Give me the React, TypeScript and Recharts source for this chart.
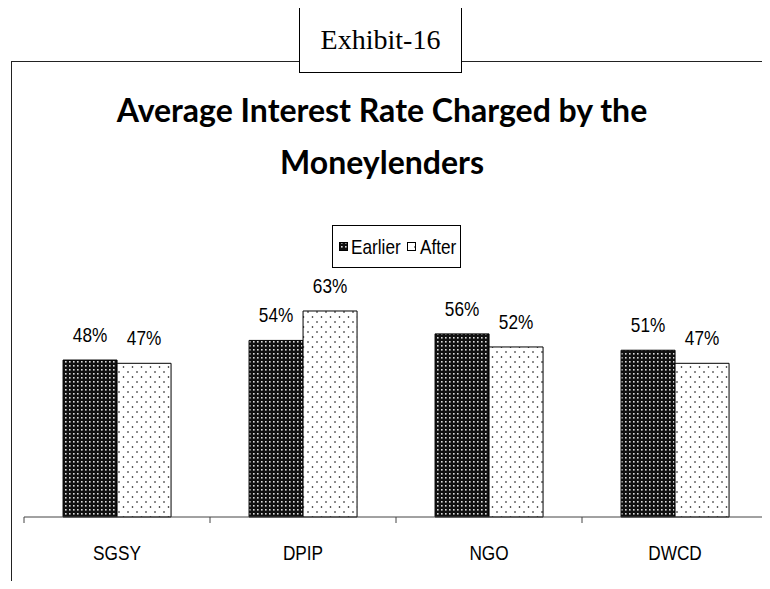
import { BarChart, Bar, XAxis, YAxis, LabelList } from "recharts";

const categories = ["SGSY", "DPIP", "NGO", "DWCD"];
const earlier = [48, 54, 56, 51];
const after = [47, 63, 52, 47];

const data = categories.map((name, i) => ({
  name,
  earlier: earlier[i],
  after: after[i],
}));

const sans = "'Liberation Sans', Arial, sans-serif";
const NARROW = 0.82;

// Arial Narrow isn't installed, so squeeze Liberation Sans instead
function NarrowText({ x, y, anchor = "middle", size = 21, children }: any) {
  return (
    <text
      transform={`translate(${x},${y}) scale(${NARROW},1)`}
      textAnchor={anchor}
      fontFamily={sans}
      fontSize={size}
      fill="#000"
    >
      {children}
    </text>
  );
}

function CategoryTick(props: any) {
  const { x, y, payload } = props;
  const half = payload && payload.offset ? payload.offset : 93;
  const last = payload.index === categories.length - 1;
  return (
    <g>
      <line x1={x - half} x2={x - half} y1={y} y2={y + 6} stroke="#444" strokeWidth={1} />
      {last && <line x1={x + half} x2={x + half} y1={y} y2={y + 6} stroke="#444" strokeWidth={1} />}
      <NarrowText x={x} y={y + 43}>{payload.value}</NarrowText>
    </g>
  );
}

function pctLabel(props: any) {
  const { x, y, width, value } = props;
  return <NarrowText x={x + width / 2} y={y - 18}>{`${value}%`}</NarrowText>;
}

function LegendBox() {
  return (
    <svg width={130} height={44}>
      <rect x={0.5} y={0.5} width={128} height={42} fill="#fff" stroke="#000" />
      <rect x={7.5} y={17.5} width={8} height={8} fill="url(#patEarlier)" stroke="#000" />
      <NarrowText x={19} y={29} anchor="start">Earlier</NarrowText>
      <rect x={75.5} y={17.5} width={8} height={8} fill="url(#patAfter)" stroke="#000" />
      <NarrowText x={88} y={29} anchor="start">After</NarrowText>
    </svg>
  );
}

export default function App() {
  return (
    <div
      style={{
        position: "relative",
        width: 770,
        height: 589,
        margin: -8,
        overflow: "hidden",
        background: "#fff",
      }}
    >
      <svg width={0} height={0} style={{ position: "absolute" }}>
        <defs>
          <pattern id="patEarlier" width={4} height={4} patternUnits="userSpaceOnUse">
            <rect width={4} height={4} fill="#111" />
            <rect x={1} y={1} width={1.6} height={1.6} fill="#ddd" />
          </pattern>
          <pattern id="patAfter" width={9} height={10} patternUnits="userSpaceOnUse">
            <rect width={9} height={10} fill="#fff" />
            <circle cx={2} cy={2} r={0.8} fill="#000" />
            <circle cx={6.5} cy={7} r={0.8} fill="#000" />
          </pattern>
        </defs>
      </svg>

      {/* outer frame */}
      <div style={{ position: "absolute", left: 12, top: 61, width: 758, borderTop: "1.5px solid #222" }} />
      <div style={{ position: "absolute", left: 11, top: 61, height: 528, borderLeft: "1.5px solid #222" }} />

      {/* exhibit box */}
      <div
        style={{
          position: "absolute",
          left: 299,
          top: 7,
          width: 161,
          height: 64,
          border: "1.5px solid #000",
          background: "#fff",
          display: "flex",
          alignItems: "center",
          justifyContent: "center",
          fontFamily: "'Liberation Serif', 'Times New Roman', serif",
          fontSize: 28,
          color: "#000",
        }}
      >
        Exhibit-16
      </div>

      {/* title */}
      <div
        style={{
          position: "absolute",
          left: 12,
          width: 740,
          top: 84,
          textAlign: "center",
          fontFamily: "Lato, 'Open Sans', sans-serif",
          fontWeight: 700,
          fontSize: 32,
          lineHeight: "52px",
          color: "#000",
        }}
      >
        <div>Average Interest Rate Charged by the</div>
        <div>Moneylenders</div>
      </div>

      <div style={{ position: "absolute", left: 332, top: 225 }}>
        <LegendBox />
      </div>

      <div style={{ position: "absolute", left: 0, top: 0 }}>
        <BarChart
          width={770}
          height={589}
          data={data}
          margin={{ top: 190, right: 2, bottom: 32, left: 24 }}
          barGap={0}
          barCategoryGap="21%"
        >
          <XAxis
            dataKey="name"
            height={40}
            tickLine={false}
            tickSize={0}
            tickMargin={0}
            axisLine={{ stroke: "#444", strokeWidth: 1 }}
            tick={<CategoryTick />}
            interval={0}
          />
          <YAxis hide domain={[0, 100]} />
          <Bar dataKey="earlier" fill="url(#patEarlier)" stroke="#000" strokeWidth={1} isAnimationActive={false}>
            <LabelList dataKey="earlier" content={pctLabel} />
          </Bar>
          <Bar dataKey="after" fill="url(#patAfter)" stroke="#000" strokeWidth={1} isAnimationActive={false}>
            <LabelList dataKey="after" content={pctLabel} />
          </Bar>
        </BarChart>
      </div>
    </div>
  );
}
